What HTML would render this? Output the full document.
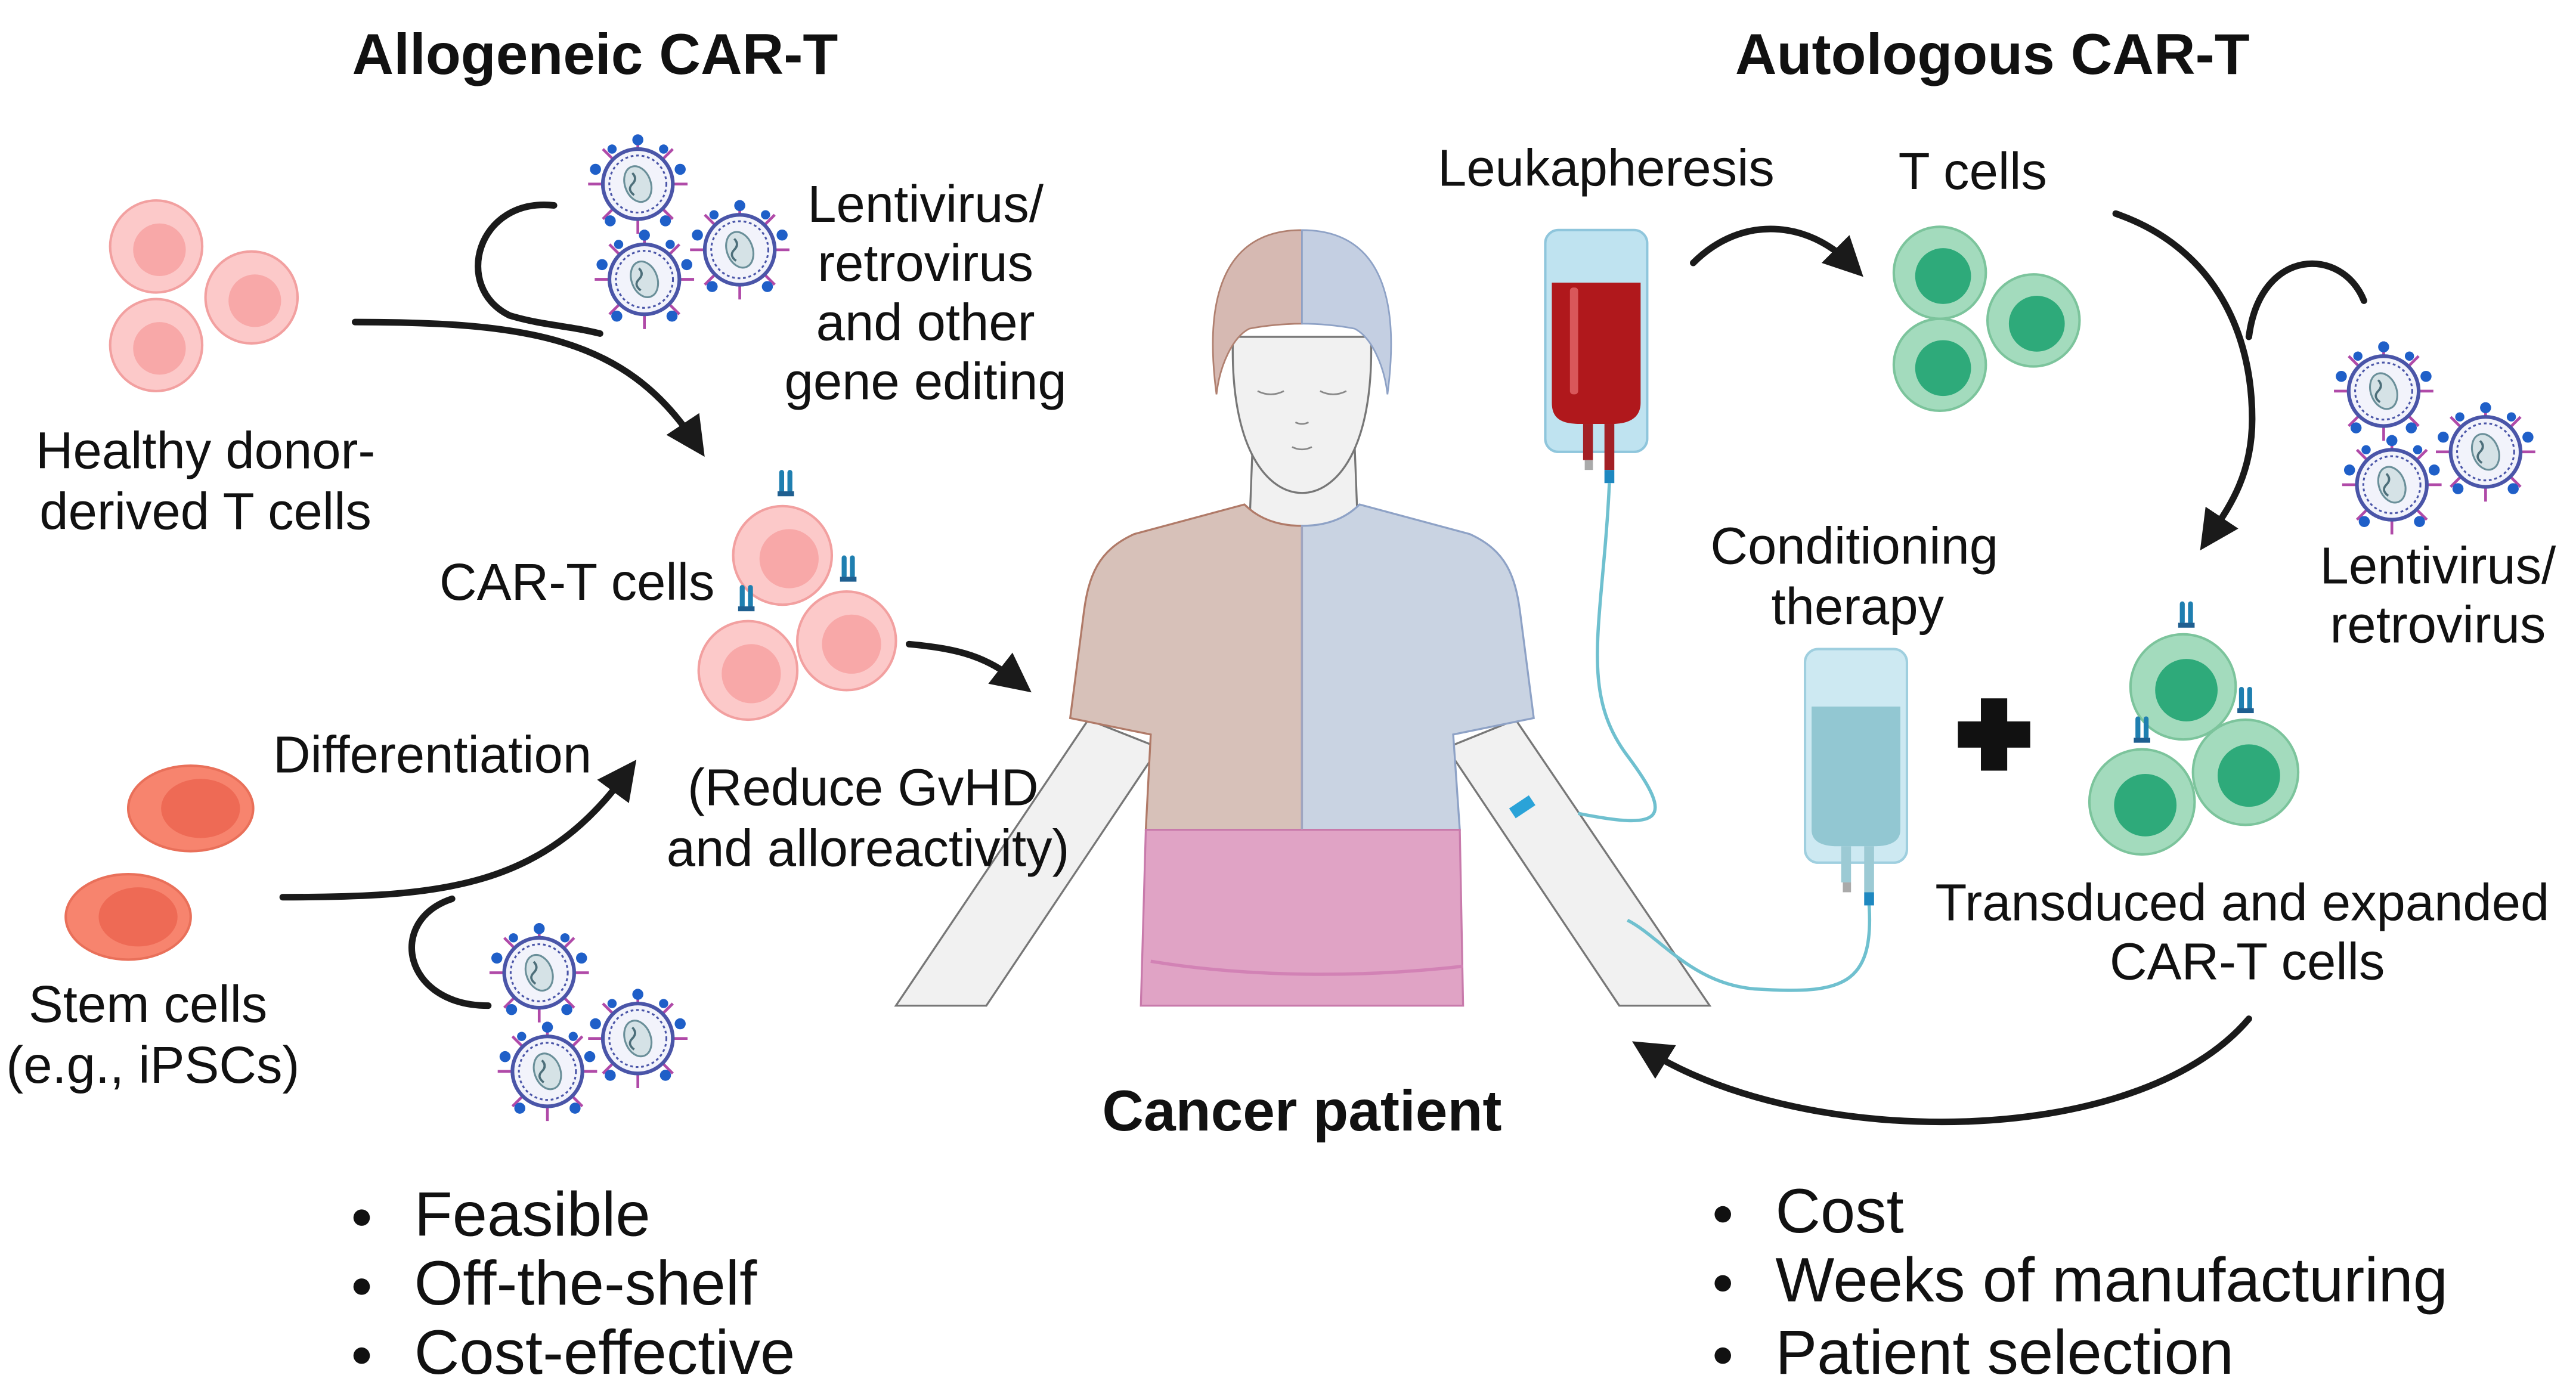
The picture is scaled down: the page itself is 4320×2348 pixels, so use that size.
<!DOCTYPE html>
<html><head><meta charset="utf-8"><style>
html,body{margin:0;padding:0;background:#fff;}
svg{display:block;}
text{font-family:"Liberation Sans",sans-serif;fill:#111;}
</style></head><body>
<svg width="4320" height="2348" viewBox="0 0 1567 852" preserveAspectRatio="none" xmlns="http://www.w3.org/2000/svg">
<defs>
<marker id="ah" markerWidth="6" markerHeight="6" refX="3" refY="3" orient="auto" markerUnits="strokeWidth">
<path d="M0,0 L6,3 L0,6 Z" fill="#1a1a1a"/></marker>
<g id="virus"><g transform="scale(1.12)">
<g stroke="#b04aa8" stroke-width="1.5">
<line x1="0" y1="-27" x2="0" y2="27"/><line x1="-27" y1="0" x2="27" y2="0"/>
<line x1="-19" y1="-19" x2="19" y2="19"/><line x1="19" y1="-19" x2="-19" y2="19"/>
</g>
<g fill="#1f5fc8"><circle cx="0" cy="-24" r="3"/><circle cx="23" cy="-8" r="3"/><circle cx="15" cy="20" r="3"/><circle cx="-15" cy="20" r="3"/><circle cx="-23" cy="-8" r="3"/><circle cx="-14" cy="-19" r="2.5"/><circle cx="14" cy="-19" r="2.5"/></g>
<circle r="19" fill="#f2f3fb" stroke="#4a55a8" stroke-width="2"/>
<circle r="15.5" fill="none" stroke="#4a55a8" stroke-width="1" stroke-dasharray="1.5 1.5"/>
<ellipse rx="7" ry="10" transform="rotate(-20)" fill="#d5e2e6" stroke="#6a8f99" stroke-width="1"/>
<path d="M-3,-6 q3,3 0,6 q-3,3 1,6" fill="none" stroke="#4d6f7a" stroke-width="1.2"/>
</g></g>
<g id="rcpt"><rect x="-4" y="-14" width="3" height="14" rx="1.5" fill="#1f7fb0"/><rect x="1" y="-14" width="3" height="14" rx="1.5" fill="#1f7fb0"/><rect x="-5" y="-1" width="10" height="3" fill="#1f5f90"/></g>
</defs>

<!-- Person -->
<g stroke="#777" stroke-width="1.2" fill="#f1f1f1">
<path d="M662,438 L705,455 L600,612 L545,612 Z"/>
<path d="M922,438 L880,455 L985,612 L1040,612 Z"/>
<path d="M762,270 L760,322 L826,322 L824,270 Z"/>
<path d="M750,205 C748,275 772,300 792,300 C812,300 836,275 834,205 Z"/>
</g>
<path d="M792,140 C755,140 730,165 740,240 C742,222 750,205 760,200 C770,198 782,197 792,197 Z" fill="#d6b9b2" stroke="#b08070" stroke-width="1"/>
<path d="M792,140 C829,140 854,165 844,240 C842,222 834,205 824,200 C814,198 802,197 792,197 Z" fill="#c4cfe2" stroke="#8ea2c6" stroke-width="1"/>
<g stroke="#888" stroke-width="1" fill="none"><path d="M765,238 q8,4 16,0"/><path d="M803,238 q8,4 16,0"/><path d="M786,272 q6,3 12,0"/><path d="M788,257 q4,2 8,0"/></g>
<path d="M792,320 C772,320 762,312 757,307 L690,325 C668,335 662,350 659,375 L651,437 L700,447 L697,505 L792,505 Z" fill="#d7c1b9" stroke="#b07a68" stroke-width="1.2"/>
<path d="M792,320 C812,320 822,312 827,307 L894,325 C916,335 922,350 925,375 L933,437 L884,447 L888,505 L792,505 Z" fill="#c9d3e2" stroke="#8ea2c6" stroke-width="1.2"/>
<path d="M697,505 L888,505 L890,612 L694,612 Z" fill="#e0a3c5" stroke="#c87aab" stroke-width="1.2"/>
<path d="M700,585 C760,595 830,595 890,588" fill="none" stroke="#d282b5" stroke-width="2"/>
<path d="M792,320 L792,505" stroke="#b8a8b8" stroke-width="0.6"/>

<!-- Titles -->
<text x="362" y="45" font-size="35" font-weight="bold" text-anchor="middle">Allogeneic CAR-T</text>
<text x="1212" y="45" font-size="35" font-weight="bold" text-anchor="middle">Autologous CAR-T</text>

<!-- Healthy cells -->
<g fill="#fcc9c9" stroke="#f2a0a0" stroke-width="1.5">
<circle cx="95" cy="150" r="28"/><circle cx="153" cy="181" r="28"/><circle cx="95" cy="210" r="28"/></g>
<g fill="#f8a8a8"><circle cx="97" cy="152" r="16"/><circle cx="155" cy="183" r="16"/><circle cx="97" cy="212" r="16"/></g>
<text x="125" y="285" font-size="31.5" text-anchor="middle">Healthy donor-</text>
<text x="125" y="322" font-size="31.5" text-anchor="middle">derived T cells</text>

<use href="#virus" x="388" y="112"/><use href="#virus" x="450" y="152"/><use href="#virus" x="392" y="170"/>
<text x="563" y="135" font-size="31.5" text-anchor="middle">Lentivirus/</text>
<text x="563" y="171" font-size="31.5" text-anchor="middle">retrovirus</text>
<text x="563" y="207" font-size="31.5" text-anchor="middle">and other</text>
<text x="563" y="243" font-size="31.5" text-anchor="middle">gene editing</text>

<g fill="none" stroke="#1a1a1a" stroke-width="4" stroke-linecap="round">
<path d="M216,196 C320,196 380,205 422,268" marker-end="url(#ah)"/>
<path d="M337,125 C290,120 275,175 310,192 C330,198 345,198 365,203"/>
</g>

<!-- CAR-T cells left -->
<g fill="#fcc9c9" stroke="#f2a0a0" stroke-width="1.5">
<circle cx="476" cy="338" r="30"/><circle cx="455" cy="408" r="30"/><circle cx="515" cy="390" r="30"/></g>
<g fill="#f8a8a8"><circle cx="480" cy="340" r="18"/><circle cx="457" cy="410" r="18"/><circle cx="518" cy="392" r="18"/></g>
<use href="#rcpt" x="478" y="300"/><use href="#rcpt" x="454" y="370"/><use href="#rcpt" x="516" y="352"/>
<text x="351" y="365" font-size="31.5" text-anchor="middle">CAR-T cells</text>
<path d="M553,392 C585,395 600,400 618,414" fill="none" stroke="#1a1a1a" stroke-width="4" stroke-linecap="round" marker-end="url(#ah)"/>

<!-- Stem cells -->
<g fill="#f7846e" stroke="#e9705a" stroke-width="1.5">
<ellipse cx="116" cy="492" rx="38" ry="26"/><ellipse cx="78" cy="558" rx="38" ry="26"/></g>
<g fill="#ee6a55"><ellipse cx="122" cy="492" rx="24" ry="18"/><ellipse cx="84" cy="558" rx="24" ry="18"/></g>
<text x="90" y="622" font-size="31.5" text-anchor="middle">Stem cells</text>
<text x="93" y="659" font-size="31.5" text-anchor="middle">(e.g., iPSCs)</text>
<text x="263" y="470" font-size="31.5" text-anchor="middle">Differentiation</text>
<g fill="none" stroke="#1a1a1a" stroke-width="4" stroke-linecap="round">
<path d="M172,546 C270,546 330,540 380,472" marker-end="url(#ah)"/>
<path d="M297,612 C245,612 235,560 275,547"/>
</g>
<use href="#virus" x="328" y="592"/><use href="#virus" x="388" y="632"/><use href="#virus" x="333" y="652"/>
<text x="525" y="490" font-size="31.5" text-anchor="middle">(Reduce GvHD</text>
<text x="528" y="527" font-size="31.5" text-anchor="middle">and alloreactivity)</text>

<!-- Leukapheresis -->
<text x="977" y="113" font-size="31.5" text-anchor="middle">Leukapheresis</text>
<rect x="940" y="140" width="62" height="135" rx="8" fill="#bfe3f0" stroke="#8fc6dc" stroke-width="1.5"/>
<path d="M944,172 L998,172 L998,245 C998,255 990,258 980,258 L962,258 C950,258 944,255 944,245 Z" fill="#b0181c"/>
<rect x="955" y="175" width="5" height="65" rx="2" fill="#d9575a"/>
<rect x="963" y="258" width="6" height="22" fill="#a32025"/><rect x="976" y="258" width="6" height="28" fill="#a32025"/>
<rect x="964" y="280" width="5" height="6" fill="#aaa"/><rect x="976" y="286" width="6" height="8" fill="#1e88c0"/>
<path d="M979,294 C975,380 960,420 990,460 C1020,500 1010,505 960,495" fill="none" stroke="#6fc0cf" stroke-width="2"/>
<path d="M918,492 l12,-8 l4,6 l-12,8 z" fill="#2aa3d8"/>
<path d="M1030,160 C1060,130 1100,135 1125,160" fill="none" stroke="#1a1a1a" stroke-width="4" stroke-linecap="round" marker-end="url(#ah)"/>

<!-- T cells -->
<text x="1200" y="115" font-size="31.5" text-anchor="middle">T cells</text>
<g fill="#a3dbbd" stroke="#7cc49c" stroke-width="1.5">
<circle cx="1180" cy="166" r="28"/><circle cx="1237" cy="195" r="28"/><circle cx="1180" cy="222" r="28"/></g>
<g fill="#2eaa7a"><circle cx="1182" cy="168" r="17"/><circle cx="1239" cy="197" r="17"/><circle cx="1182" cy="224" r="17"/></g>

<g fill="none" stroke="#1a1a1a" stroke-width="4" stroke-linecap="round">
<path d="M1287,130 C1345,150 1370,200 1370,255 C1370,290 1355,310 1345,325" marker-end="url(#ah)"/>
<path d="M1438,183 C1425,150 1375,150 1368,205"/>
</g>
<use href="#virus" x="1450" y="238"/><use href="#virus" x="1512" y="275"/><use href="#virus" x="1455" y="295"/>
<text x="1483" y="355" font-size="31.5" text-anchor="middle">Lentivirus/</text>
<text x="1483" y="391" font-size="31.5" text-anchor="middle">retrovirus</text>

<!-- Conditioning -->
<text x="1128" y="343" font-size="31.5" text-anchor="middle">Conditioning</text>
<text x="1130" y="380" font-size="31.5" text-anchor="middle">therapy</text>
<rect x="1098" y="395" width="62" height="130" rx="8" fill="#cde9f2" stroke="#9fcfdf" stroke-width="1.5"/>
<path d="M1102,430 L1156,430 L1156,505 C1156,512 1150,515 1140,515 L1118,515 C1108,515 1102,512 1102,505 Z" fill="#92c7d2"/>
<rect x="1120" y="515" width="6" height="22" fill="#9ccad4"/><rect x="1134" y="515" width="6" height="28" fill="#9ccad4"/>
<rect x="1121" y="537" width="5" height="6" fill="#aaa"/><rect x="1134" y="543" width="6" height="8" fill="#1e88c0"/>
<path d="M1137,551 C1140,600 1120,605 1070,602 C1030,600 1010,570 990,560" fill="none" stroke="#6fc0cf" stroke-width="2"/>
<path d="M1205,425 h16 v14 h14 v16 h-14 v14 h-16 v-14 h-14 v-16 h14 z" fill="#111"/>

<!-- Green CAR-T -->
<g fill="#a3dbbd" stroke="#7cc49c" stroke-width="1.5">
<circle cx="1328" cy="418" r="32"/><circle cx="1303" cy="488" r="32"/><circle cx="1366" cy="470" r="32"/></g>
<g fill="#2eaa7a"><circle cx="1330" cy="420" r="19"/><circle cx="1305" cy="490" r="19"/><circle cx="1368" cy="472" r="19"/></g>
<use href="#rcpt" x="1330" y="380"/><use href="#rcpt" x="1303" y="450"/><use href="#rcpt" x="1366" y="432"/>
<text x="1364" y="560" font-size="31.5" text-anchor="middle">Transduced and expanded</text>
<text x="1367" y="596" font-size="31.5" text-anchor="middle">CAR-T cells</text>

<path d="M1368,620 C1300,700 1100,700 1003,640" fill="none" stroke="#1a1a1a" stroke-width="4" stroke-linecap="round" marker-end="url(#ah)"/>

<text x="792" y="688" font-size="35" font-weight="bold" text-anchor="middle">Cancer patient</text>

<!-- Bullets -->
<g font-size="38">
<circle cx="220" cy="741" r="5" fill="#111"/><text x="252" y="752">Feasible</text>
<circle cx="220" cy="783" r="5" fill="#111"/><text x="252" y="794">Off-the-shelf</text>
<circle cx="220" cy="825" r="5" fill="#111"/><text x="252" y="836">Cost-effective</text>
<circle cx="1048" cy="739" r="5" fill="#111"/><text x="1080" y="750">Cost</text>
<circle cx="1048" cy="781" r="5" fill="#111"/><text x="1080" y="792">Weeks of manufacturing</text>
<circle cx="1048" cy="825" r="5" fill="#111"/><text x="1080" y="836">Patient selection</text>
</g>
</svg>
</body></html>
